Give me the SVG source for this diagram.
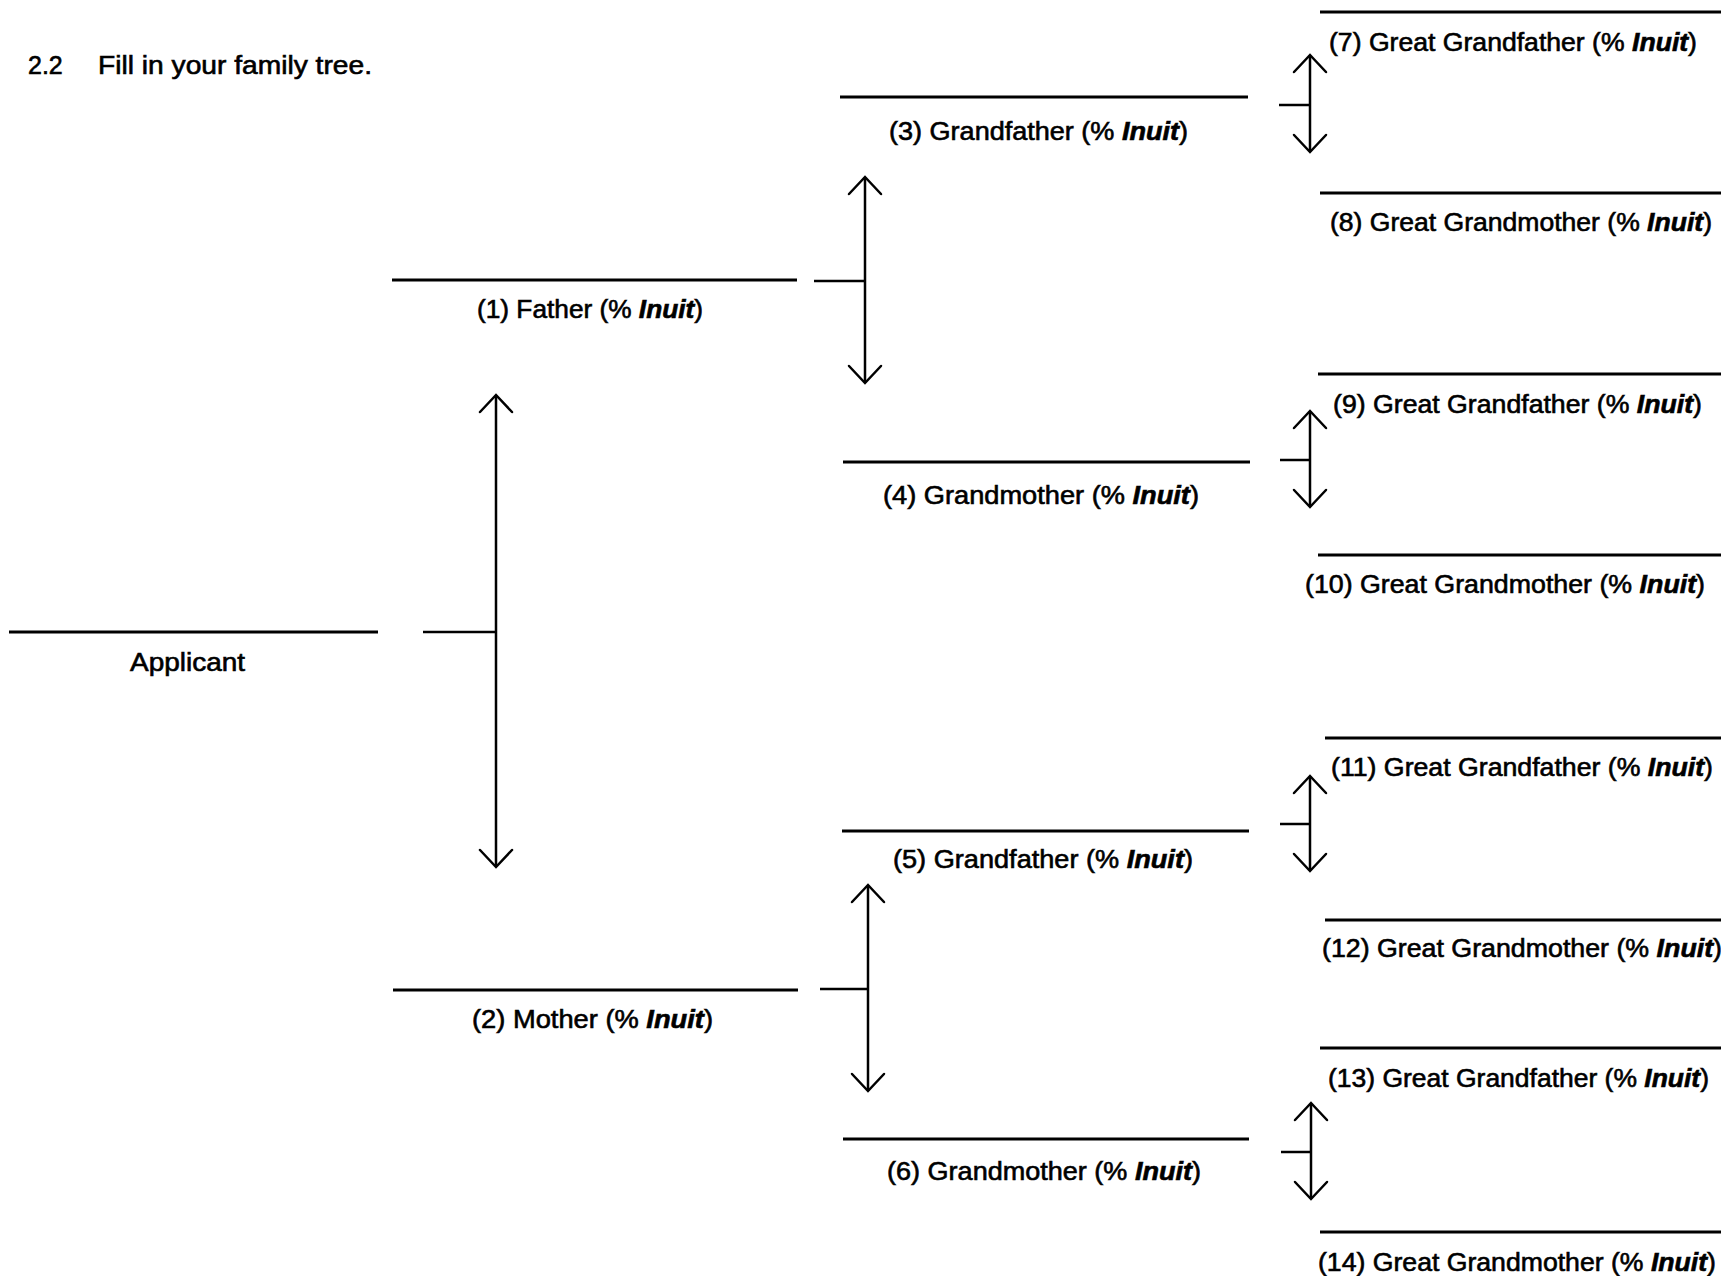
<svg xmlns="http://www.w3.org/2000/svg" width="1721" height="1276" viewBox="0 0 1721 1276">
<style>
.ln{stroke:#000;stroke-width:3;fill:none}
.cn{stroke:#000;stroke-width:2.5;fill:none}
.ar{stroke:#000;stroke-width:2.5;fill:none;marker-start:url(#ah);marker-end:url(#ah)}
.t{font-family:"Liberation Sans",Arial,sans-serif;font-size:25px;fill:#000;stroke:#000;stroke-width:0.6}
.i{font-weight:bold;font-style:italic}
</style>
<defs>
<marker id="ah" markerUnits="userSpaceOnUse" markerWidth="40" markerHeight="40" viewBox="-20 -20 40 40" refX="0" refY="0" orient="auto-start-reverse" overflow="visible">
<path d="M-17,-16 L0,0 L-17,16" stroke="#000" stroke-width="2.5" fill="none" stroke-linecap="round"/>
</marker>
</defs>
<rect width="1721" height="1276" fill="#fff"/>
<text class="t" x="28" y="74">2.2</text>
<text class="t" x="98" y="74" textLength="274" lengthAdjust="spacingAndGlyphs">Fill in your family tree.</text>

<g id="applicant"><line class="ln" x1="9" y1="632" x2="378" y2="632"/><text class="t" x="130" y="671" textLength="115" lengthAdjust="spacingAndGlyphs">Applicant</text></g>
<g id="p1"><line class="ln" x1="392" y1="280" x2="797" y2="280"/><text class="t" x="477" y="318" textLength="226" lengthAdjust="spacingAndGlyphs">(1) Father (% <tspan class="i">Inuit</tspan>)</text></g>
<g id="p2"><line class="ln" x1="393" y1="990" x2="798" y2="990"/><text class="t" x="472" y="1028" textLength="241" lengthAdjust="spacingAndGlyphs">(2) Mother (% <tspan class="i">Inuit</tspan>)</text></g>
<g id="p3"><line class="ln" x1="840" y1="97" x2="1248" y2="97"/><text class="t" x="889" y="140" textLength="299" lengthAdjust="spacingAndGlyphs">(3) Grandfather (% <tspan class="i">Inuit</tspan>)</text></g>
<g id="p4"><line class="ln" x1="843" y1="462" x2="1250" y2="462"/><text class="t" x="883" y="504" textLength="316" lengthAdjust="spacingAndGlyphs">(4) Grandmother (% <tspan class="i">Inuit</tspan>)</text></g>
<g id="p5"><line class="ln" x1="842" y1="831" x2="1249" y2="831"/><text class="t" x="893" y="868" textLength="300" lengthAdjust="spacingAndGlyphs">(5) Grandfather (% <tspan class="i">Inuit</tspan>)</text></g>
<g id="p6"><line class="ln" x1="843" y1="1139" x2="1249" y2="1139"/><text class="t" x="887" y="1180" textLength="314" lengthAdjust="spacingAndGlyphs">(6) Grandmother (% <tspan class="i">Inuit</tspan>)</text></g>
<g id="p7"><line class="ln" x1="1320" y1="12" x2="1721" y2="12"/><text class="t" x="1329" y="51" textLength="368" lengthAdjust="spacingAndGlyphs">(7) Great Grandfather (% <tspan class="i">Inuit</tspan>)</text></g>
<g id="p8"><line class="ln" x1="1320" y1="193" x2="1721" y2="193"/><text class="t" x="1330" y="231" textLength="382" lengthAdjust="spacingAndGlyphs">(8) Great Grandmother (% <tspan class="i">Inuit</tspan>)</text></g>
<g id="p9"><line class="ln" x1="1318" y1="374" x2="1721" y2="374"/><text class="t" x="1333" y="413" textLength="369" lengthAdjust="spacingAndGlyphs">(9) Great Grandfather (% <tspan class="i">Inuit</tspan>)</text></g>
<g id="p10"><line class="ln" x1="1318" y1="555" x2="1721" y2="555"/><text class="t" x="1305" y="593" textLength="400" lengthAdjust="spacingAndGlyphs">(10) Great Grandmother (% <tspan class="i">Inuit</tspan>)</text></g>
<g id="p11"><line class="ln" x1="1325" y1="738" x2="1721" y2="738"/><text class="t" x="1331" y="776" textLength="382" lengthAdjust="spacingAndGlyphs">(11) Great Grandfather (% <tspan class="i">Inuit</tspan>)</text></g>
<g id="p12"><line class="ln" x1="1325" y1="920" x2="1721" y2="920"/><text class="t" x="1322" y="957" textLength="400" lengthAdjust="spacingAndGlyphs">(12) Great Grandmother (% <tspan class="i">Inuit</tspan>)</text></g>
<g id="p13"><line class="ln" x1="1320" y1="1048" x2="1721" y2="1048"/><text class="t" x="1328" y="1087" textLength="381" lengthAdjust="spacingAndGlyphs">(13) Great Grandfather (% <tspan class="i">Inuit</tspan>)</text></g>
<g id="p14"><line class="ln" x1="1320" y1="1232" x2="1721" y2="1232"/><text class="t" x="1318" y="1271" textLength="398" lengthAdjust="spacingAndGlyphs">(14) Great Grandmother (% <tspan class="i">Inuit</tspan>)</text></g>

<g id="connectors">
<path class="cn" d="M423,632 H496"/><path class="ar" d="M496,395 V867"/>
<path class="cn" d="M814,281 H865"/><path class="ar" d="M865,177 V383"/>
<path class="cn" d="M820,989 H868"/><path class="ar" d="M868,885 V1091"/>
<path class="cn" d="M1279,105 H1310"/><path class="ar" d="M1310,55 V152"/>
<path class="cn" d="M1280,460 H1310"/><path class="ar" d="M1310,411 V507"/>
<path class="cn" d="M1280,824 H1310"/><path class="ar" d="M1310,776 V871"/>
<path class="cn" d="M1281,1152 H1311"/><path class="ar" d="M1311,1103 V1199"/>
</g>
</svg>
